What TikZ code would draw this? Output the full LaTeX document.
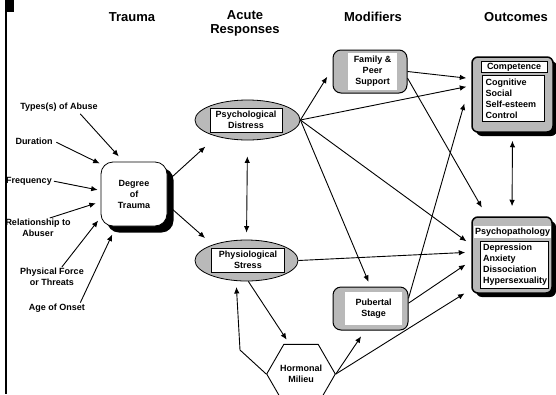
\documentclass[tikz,border=0pt]{standalone}
\usepackage{fontspec}
\setmainfont{Liberation Sans}
\usetikzlibrary{shapes.geometric,arrows.meta,calc,shadows}
\begin{document}
\begin{tikzpicture}[x=1pt,y=-1pt,
  lbl/.style={font=\fontsize{9}{11}\selectfont\bfseries, align=center, inner sep=1pt},
  hdr/.style={font=\fontsize{13}{14}\selectfont\bfseries, align=center, inner sep=0pt},
  arr/.style={-{Latex[length=6.5pt,width=5.5pt]}, line width=0.9pt},
  darr/.style={{Latex[length=6.5pt,width=5.5pt]}-{Latex[length=6.5pt,width=5.5pt]}, line width=0.9pt},
  hatch/.style={fill=gray!55},
  blackshadow/.style={drop shadow={shadow xshift=4pt, shadow yshift=-4pt, fill=black, opacity=1}},
  inbox/.style={lbl, draw, fill=white, line width=0.5pt, inner sep=0pt},
  listbox/.style={lbl, draw, fill=white, line width=0.5pt, align=left, inner sep=3pt}
]
\clip (0,0) rectangle (556,394);
\fill[white] (0,0) rectangle (556,394);
% left border
\fill[black] (4.5,0) rectangle (6.5,394);
\fill[black] (5,0) rectangle (14,12);

% headers
\node[hdr] (h1) at (132,17) {Trauma};
\node[hdr] (h2) at (245,23) {Acute\\Responses};
\node[hdr] (h3) at (373,17) {Modifiers};
\node[hdr] (h4) at (516,17) {Outcomes};

% trauma factors
\node[lbl] (abuse) at (59,107) {Types(s) of Abuse};
\node[lbl] (dur) at (34,141) {Duration};
\node[lbl] (freq) at (29,181) {Frequency};
\node[lbl] (rel) at (38,228) {Relationship to\\Abuser};
\node[lbl] (force) at (52,277) {Physical Force\\or Threats};
\node[lbl] (onset) at (57,308) {Age of Onset};

% degree of trauma (with black shadow)
\fill[black, rounded corners=12pt] (107,168) rectangle (173.5,232.5);
\node[lbl, draw, fill=white, line width=0.8pt, rounded corners=12pt,
      minimum width=66pt, minimum height=64pt] (dt) at (134,194) {Degree\\of\\Trauma};

% acute responses
\node[ellipse, draw, line width=0.8pt, hatch, minimum width=105pt, minimum height=40pt] (pd) at (247.5,120) {};
\node[inbox, minimum width=72pt, minimum height=24pt] (pdl) at (246,120) {Psychological\\Distress};
\node[ellipse, draw, line width=0.8pt, hatch, minimum width=103pt, minimum height=41pt] (ps) at (246.5,260.5) {};
\node[inbox, minimum width=73pt, minimum height=24pt] (psl) at (248,260) {Physiological\\Stress};

% modifiers
\node[draw, line width=1pt, hatch, rounded corners=8pt, minimum width=74pt, minimum height=43pt] (fam) at (370,71.5) {};
\node[inbox, draw=none, minimum width=49pt, minimum height=37pt] (faml) at (372.5,71.5) {Family \&\\Peer\\Support};
\node[draw, line width=1pt, hatch, rounded corners=8pt, minimum width=75pt, minimum height=43pt] (pub) at (370.5,308.5) {};
\node[inbox, draw=none, minimum width=57pt, minimum height=33pt] (publ) at (373.5,308.5) {Pubertal\\Stage};

% hormonal milieu
\node[lbl, regular polygon, regular polygon sides=6, draw, line width=0.9pt,
      minimum size=68pt, inner sep=0pt] (hm) at (301,374) {Hormonal\\Milieu};

% outcomes
\node[draw, line width=1.5pt, hatch, rounded corners=6pt, minimum width=81pt, minimum height=75pt, blackshadow] (comp) at (512.5,94.5) {};
\node[inbox, minimum width=66pt, minimum height=11pt] (comph) at (514,67) {Competence};
\node[listbox, text width=56pt, minimum height=43pt] (compl) at (513.5,98.5) {Cognitive\\Social\\Self-esteem\\Control};
\node[draw, line width=1.5pt, hatch, rounded corners=6pt, minimum width=80pt, minimum height=76pt, blackshadow] (psy) at (512,255) {};
\node[inbox, draw=none, minimum width=77pt, minimum height=12pt] (psyh) at (512.5,232) {Psychopathology};
\node[listbox, text width=62pt, minimum height=47pt] (psyl) at (514,264.5) {Depression\\Anxiety\\Dissociation\\Hypersexuality};

% arrows into degree of trauma
\draw[arr, shorten <=2pt, shorten >=7pt] ($(abuse.south)!0.5!(abuse.south east)$) -- (dt.108);
\draw[arr, shorten <=3pt, shorten >=1pt] (dur.east) -- (dt.138);
\draw[arr, shorten <=1pt, shorten >=3pt] (freq.east) -- (dt.174);
\draw[arr, shorten >=5pt] ($(rel.north)!0.35!(rel.north east)$) -- (dt.193);
\draw[arr, shorten >=4pt] ($(force.north)!0.3!(force.north east)$) -- (dt.215);
\draw[arr, shorten >=9pt] ($(onset.north)!0.8!(onset.north east)$) -- (dt.241);

% trauma to acute responses
\draw[arr, shorten <=4pt, shorten >=15pt] (dt.21) -- (pd.208);
\draw[arr, shorten <=4pt, shorten >=10pt] (dt.-18) -- (ps.155);
\draw[darr, shorten <=16pt, shorten >=7pt] (pd.south) -- (ps.north);

% psychological distress
\draw[arr, shorten >=10pt] (pd.east) -- (fam.175);
\draw[arr, shorten >=5pt] (pd.east) -- (comp.168);
\draw[arr, shorten >=5pt] (pd.east) -- (pub.north);
\draw[arr, shorten >=6pt] (pd.east) -- (psy.166);

% physiological stress
\draw[arr, shorten >=6pt] (ps.east) -- (psy.176);
\draw[arr, shorten >=5pt] (ps.-85) -- (hm.111);
\coordinate (hb) at (240,350);
\draw[arr, shorten >=6pt] (hm.180) -- (hb) -- (ps.243);

% modifiers
\draw[arr, shorten >=5pt] (fam.east) -- (comp.159);
\draw[arr, shorten >=10pt] (fam.350) -- (psy.123);
\draw[arr, shorten >=25pt] (pub.15) -- (comp.160);
\draw[arr, shorten >=7pt] (pub.8) -- (psy.188);

% hormonal
\draw[arr, shorten >=7pt] (hm.0) -- (pub.256);
\draw[arr, shorten >=8pt] (hm.0) -- (psy.220);

% outcomes
\draw[darr, shorten <=8pt, shorten >=10pt] (comp.south) -- (psy.north);
\end{tikzpicture}
\end{document}
